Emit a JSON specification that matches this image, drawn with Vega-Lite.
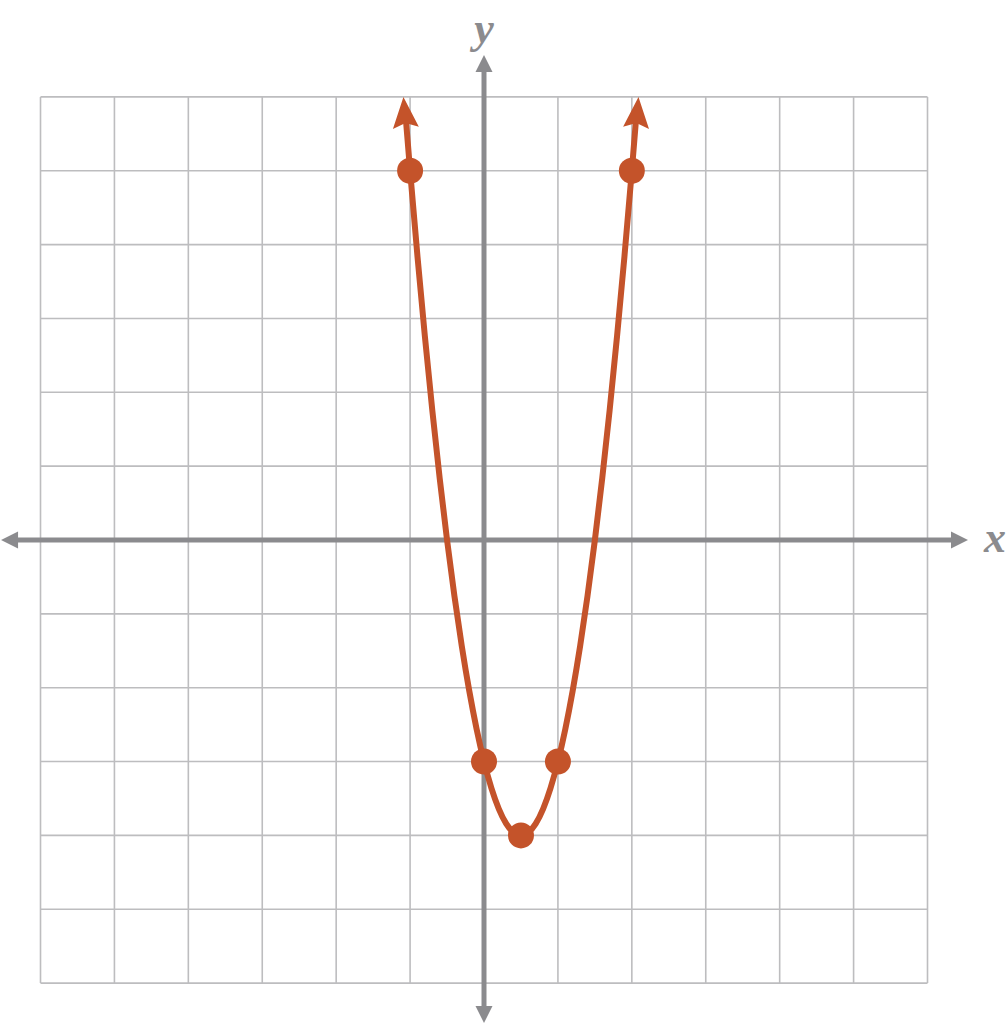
{
  "$schema": "https://vega.github.io/schema/vega-lite/v6.json",
  "width": 1008,
  "height": 1024,
  "autosize": {"type": "fit", "contains": "padding"},
  "padding": 0,
  "background": "white",
  "config": {"view": {"stroke": null}},
  "datasets": {
    "vgrid": [{"x": -6}, {"x": -5}, {"x": -4}, {"x": -3}, {"x": -2}, {"x": -1}, {"x": 0}, {"x": 1}, {"x": 2}, {"x": 3}, {"x": 4}, {"x": 5}, {"x": 6}],
    "hgrid": [{"y": -6}, {"y": -5}, {"y": -4}, {"y": -3}, {"y": -2}, {"y": -1}, {"y": 0}, {"y": 1}, {"y": 2}, {"y": 3}, {"y": 4}, {"y": 5}, {"y": 6}],
    "xaxis": [{"x": -6.318, "x2": 6.331, "y": 0}],
    "yaxis": [{"y": -6.324, "y2": 6.351, "x": 0}],
    "axisheads": [
      {"x": 0, "y": 6.567, "dir": "up"},
      {"x": 0, "y": -6.54, "dir": "down"},
      {"x": -6.534, "y": 0, "dir": "left"},
      {"x": 6.548, "y": 0, "dir": "right"}
    ],
    "curve": [
      {"x": -1.06, "y": 5.734}, {"x": -1.0, "y": 5.0}, {"x": -0.9, "y": 3.84}, {"x": -0.8, "y": 2.76},
      {"x": -0.7, "y": 1.76}, {"x": -0.6, "y": 0.84}, {"x": -0.5, "y": 0.0}, {"x": -0.4, "y": -0.76},
      {"x": -0.3, "y": -1.44}, {"x": -0.2, "y": -2.04}, {"x": -0.1, "y": -2.56}, {"x": 0.0, "y": -3.0},
      {"x": 0.1, "y": -3.36}, {"x": 0.2, "y": -3.64}, {"x": 0.3, "y": -3.84}, {"x": 0.4, "y": -3.96},
      {"x": 0.5, "y": -4.0}, {"x": 0.6, "y": -3.96}, {"x": 0.7, "y": -3.84}, {"x": 0.8, "y": -3.64},
      {"x": 0.9, "y": -3.36}, {"x": 1.0, "y": -3.0}, {"x": 1.1, "y": -2.56}, {"x": 1.2, "y": -2.04},
      {"x": 1.3, "y": -1.44}, {"x": 1.4, "y": -0.76}, {"x": 1.5, "y": 0.0}, {"x": 1.6, "y": 0.84},
      {"x": 1.7, "y": 1.76}, {"x": 1.8, "y": 2.76}, {"x": 1.9, "y": 3.84}, {"x": 2.0, "y": 5.0},
      {"x": 2.06, "y": 5.734}
    ],
    "tipL": [{"x": -1.09, "y": 5.999}],
    "tipR": [{"x": 2.09, "y": 5.999}],
    "pts": [{"x": -1, "y": 5}, {"x": 2, "y": 5}, {"x": 0, "y": -3}, {"x": 1, "y": -3}, {"x": 0.5, "y": -4}],
    "labels": [{"x": 6.913, "y": 0.02, "t": "x"}, {"x": 0, "y": 6.906, "t": "y"}]
  },
  "layer": [
    {
      "data": {"name": "vgrid"},
      "mark": {"type": "rule", "stroke": "#bdbdbf", "strokeWidth": 1.6},
      "encoding": {
        "x": {"field": "x", "type": "quantitative", "scale": {"domain": [-6.548, 7.089], "nice": false, "zero": false}, "axis": null},
        "y": {"datum": -6, "type": "quantitative", "scale": {"domain": [-6.554, 7.312], "nice": false, "zero": false}, "axis": null},
        "y2": {"datum": 6}
      }
    },
    {
      "data": {"name": "hgrid"},
      "mark": {"type": "rule", "stroke": "#bdbdbf", "strokeWidth": 1.6},
      "encoding": {
        "y": {"field": "y", "type": "quantitative", "axis": null},
        "x": {"datum": -6, "type": "quantitative", "axis": null},
        "x2": {"datum": 6}
      }
    },
    {
      "data": {"name": "xaxis"},
      "mark": {"type": "rule", "stroke": "#8b8b8e", "strokeWidth": 5},
      "encoding": {
        "x": {"field": "x", "type": "quantitative", "axis": null},
        "x2": {"field": "x2"},
        "y": {"field": "y", "type": "quantitative", "axis": null}
      }
    },
    {
      "data": {"name": "yaxis"},
      "mark": {"type": "rule", "stroke": "#8b8b8e", "strokeWidth": 5},
      "encoding": {
        "y": {"field": "y", "type": "quantitative", "axis": null},
        "y2": {"field": "y2"},
        "x": {"field": "x", "type": "quantitative", "axis": null}
      }
    },
    {
      "data": {"name": "axisheads"},
      "mark": {"type": "point", "filled": true, "size": 4, "color": "#8b8b8e", "opacity": 1, "strokeWidth": 0},
      "encoding": {
        "x": {"field": "x", "type": "quantitative", "axis": null},
        "y": {"field": "y", "type": "quantitative", "axis": null},
        "shape": {"field": "dir", "type": "nominal", "legend": null,
          "scale": {"domain": ["up", "down", "left", "right"],
            "range": ["M0,0L-8.5,17L8.5,17Z", "M0,0L-8.5,-17L8.5,-17Z", "M0,0L17,-8.5L17,8.5Z", "M0,0L-17,-8.5L-17,8.5Z"]}}
      }
    },
    {
      "data": {"name": "curve"},
      "mark": {"type": "line", "stroke": "#c4532a", "strokeWidth": 6, "interpolate": "monotone"},
      "encoding": {
        "x": {"field": "x", "type": "quantitative", "axis": null},
        "y": {"field": "y", "type": "quantitative", "axis": null}
      }
    },
    {
      "data": {"name": "tipL"},
      "mark": {"type": "point", "filled": true, "size": 4, "color": "#c4532a", "opacity": 1, "strokeWidth": 0, "angle": -4.5, "shape": "M0,0L-13,31L0,26L13,31Z"},
      "encoding": {
        "x": {"field": "x", "type": "quantitative", "axis": null},
        "y": {"field": "y", "type": "quantitative", "axis": null}
      }
    },
    {
      "data": {"name": "tipR"},
      "mark": {"type": "point", "filled": true, "size": 4, "color": "#c4532a", "opacity": 1, "strokeWidth": 0, "angle": 4.5, "shape": "M0,0L-13,31L0,26L13,31Z"},
      "encoding": {
        "x": {"field": "x", "type": "quantitative", "axis": null},
        "y": {"field": "y", "type": "quantitative", "axis": null}
      }
    },
    {
      "data": {"name": "pts"},
      "mark": {"type": "circle", "size": 676, "color": "#c4532a", "opacity": 1},
      "encoding": {
        "x": {"field": "x", "type": "quantitative", "axis": null},
        "y": {"field": "y", "type": "quantitative", "axis": null}
      }
    },
    {
      "data": {"name": "labels"},
      "mark": {"type": "text", "font": "Liberation Serif", "fontStyle": "italic", "fontWeight": "bold", "fontSize": 44, "color": "#8b8b8e", "align": "center", "baseline": "middle"},
      "encoding": {
        "x": {"field": "x", "type": "quantitative", "axis": null},
        "y": {"field": "y", "type": "quantitative", "axis": null},
        "text": {"field": "t"}
      }
    }
  ]
}
